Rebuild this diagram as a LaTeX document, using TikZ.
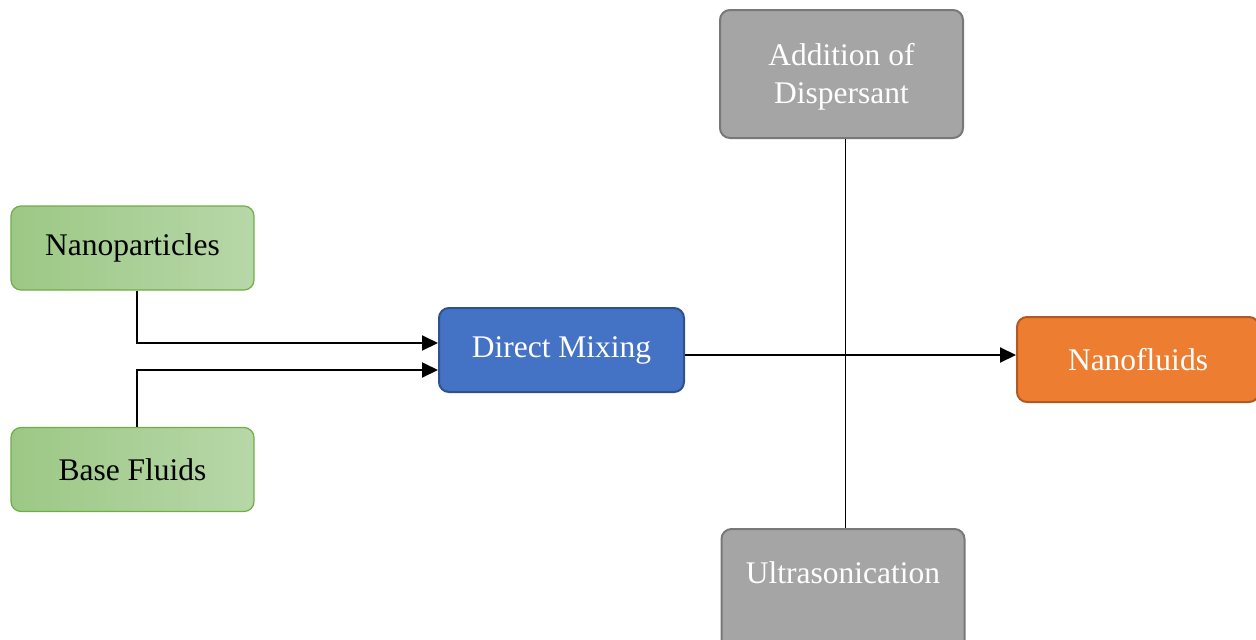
\documentclass[tikz,border=0pt]{standalone}
\usepackage{fontspec}
\setmainfont{Liberation Serif}
\usetikzlibrary{arrows.meta}
\definecolor{greenL}{HTML}{9CC885}
\definecolor{greenR}{HTML}{B7D7A8}
\definecolor{greenB}{HTML}{70AD47}
\definecolor{blueF}{HTML}{4472C4}
\definecolor{blueB}{HTML}{2F528F}
\definecolor{orangeF}{HTML}{ED7D31}
\definecolor{orangeB}{HTML}{AE5A21}
\definecolor{grayF}{HTML}{A5A5A5}
\definecolor{grayB}{HTML}{787878}
\tikzset{
  boxbase/.style={rounded corners=10pt, minimum width=243pt, inner sep=0pt,
    font=\fontsize{31.5}{38}\selectfont, align=center},
  greenbox/.style={boxbase, draw=greenB, line width=1.2pt, left color=greenL, right color=greenR, minimum height=84pt, text=black},
  bluebox/.style={boxbase, draw=blueB, line width=2pt, fill=blueF, minimum height=84pt, text=white},
  orangebox/.style={boxbase, draw=orangeB, line width=2pt, fill=orangeF, minimum height=85pt, text=white},
  graybox/.style={boxbase, draw=grayB, line width=2pt, fill=grayF, text=white},
  flow/.style={line width=2pt, -{Triangle[length=16pt,width=15pt]}},
  thin/.style={line width=0.9pt}
}
\begin{document}
\begin{tikzpicture}[x=1pt,y=-1pt]
\useasboundingbox (0,0) rectangle (1256,640);
\node[greenbox] (np) at (132.5,248) {Nanoparticles};
\node[greenbox] (bf) at (132.5,469.5) {Base Fluids};
\node[bluebox, minimum width=245pt] (dm) at (561.5,350) {Direct Mixing};
\node[orangebox, minimum width=242pt] (nf) at (1138,359.5) {Nanofluids};
\node[graybox, minimum height=128pt] (ad) at (841.5,74) {};
\node[text=white, align=center, inner sep=0pt, font=\fontsize{31.5}{38}\selectfont] (adt) at (841.5,77) {Addition of\\Dispersant};
\node[graybox, minimum height=128pt] (us) at (843,593) {};
\node[text=white, inner sep=0pt, font=\fontsize{31.5}{38}\selectfont] (ust) at (843,573) {Ultrasonication};
\coordinate (npdrop) at ([xshift=4.5pt]np.south);
\coordinate (bfrise) at ([xshift=4.5pt]bf.north);
\draw[thin] ([xshift=3.5pt]ad.south) -- ([xshift=2pt]us.north);
\draw[flow] (npdrop) |- ([yshift=7pt]dm.west);
\draw[flow] (bfrise) |- ([yshift=-20pt]dm.west);
\draw[flow] ([yshift=-5pt]dm.east) -- ([yshift=-5pt]dm.east -| nf.west);
\end{tikzpicture}
\end{document}
